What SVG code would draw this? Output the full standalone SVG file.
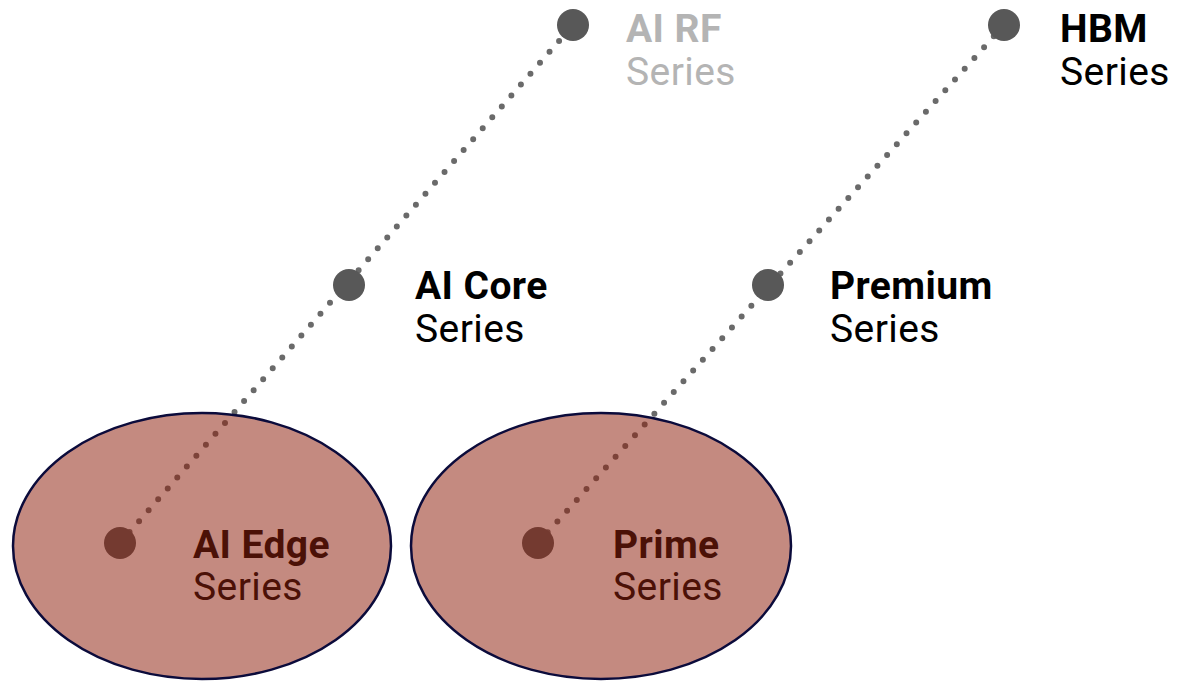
<svg xmlns="http://www.w3.org/2000/svg" width="1182" height="684" viewBox="0 0 1182 684">
<style>
.link{stroke:#6a6a6a;stroke-width:6;stroke-linecap:round;stroke-dasharray:0 14.5;fill:none}
.dot{fill:#585858}
.t{font-family:Roboto,"Liberation Sans",sans-serif;font-size:39px;letter-spacing:0.4px;fill:#000}
.b{font-weight:bold}
.grey{fill:#b4b4b4}
.area{fill:rgb(143,32,13);fill-opacity:0.525}
.rim{fill:none;stroke:#0b0b3b;stroke-width:2.5}
</style>
<rect width="1182" height="684" fill="#fff"/>
<g id="connectors">
<line class="link" x1="120" y1="543" x2="573" y2="25"/>
<line class="link" x1="538" y1="543" x2="1004" y2="25"/>
</g>
<g id="ai-rf"><circle class="dot" cx="573" cy="25" r="16"/><text class="t b grey" x="626" y="42">AI RF</text><text class="t grey" x="626" y="85">Series</text></g>
<g id="hbm"><circle class="dot" cx="1004" cy="25" r="16"/><text class="t b" x="1060" y="42">HBM</text><text class="t" x="1060" y="85">Series</text></g>
<g id="ai-core"><circle class="dot" cx="349" cy="285" r="16"/><text class="t b" x="415" y="299">AI Core</text><text class="t" x="415" y="342">Series</text></g>
<g id="premium"><circle class="dot" cx="768" cy="285" r="16"/><text class="t b" x="830" y="299">Premium</text><text class="t" x="830" y="342">Series</text></g>
<g id="ai-edge"><circle class="dot" cx="120" cy="543" r="16"/><text class="t b" x="193" y="558">AI Edge</text><text class="t" x="193" y="600">Series</text></g>
<g id="prime"><circle class="dot" cx="538" cy="543" r="16"/><text class="t b" x="613" y="558">Prime</text><text class="t" x="613" y="600">Series</text></g>
<g id="edge-zone"><ellipse class="area" cx="202" cy="546" rx="189" ry="133"/><ellipse class="rim" cx="202" cy="546" rx="189" ry="133"/></g>
<g id="prime-zone"><ellipse class="area" cx="601" cy="546" rx="190" ry="133"/><ellipse class="rim" cx="601" cy="546" rx="190" ry="133"/></g>
</svg>
